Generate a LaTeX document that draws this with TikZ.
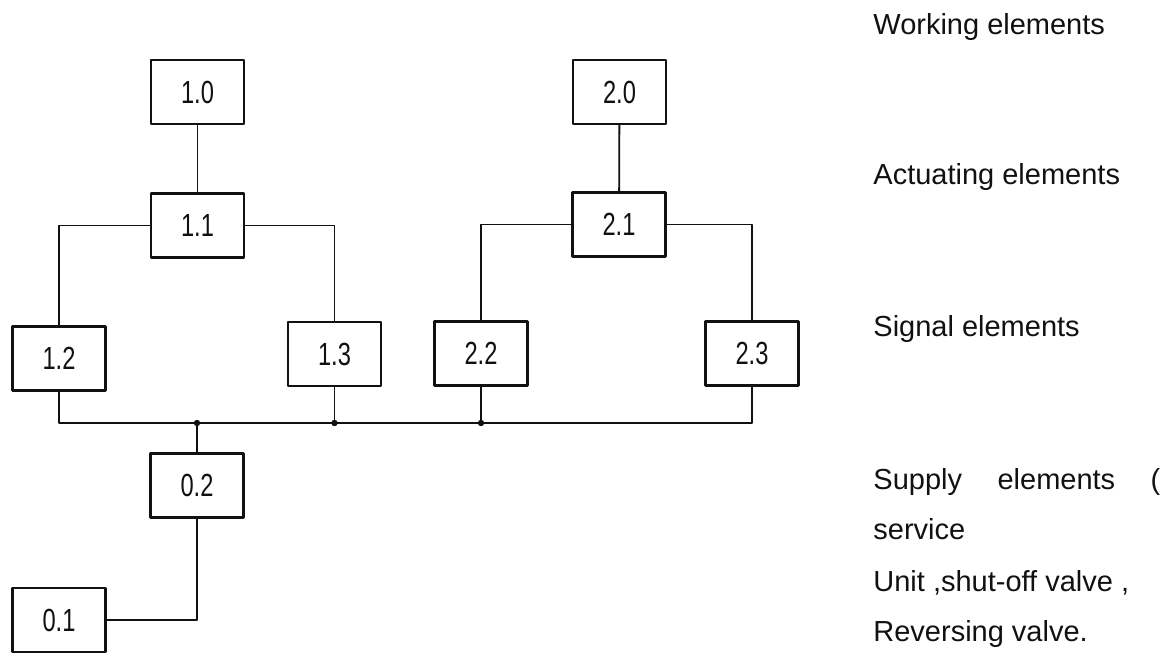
\documentclass[tikz,border=0pt]{standalone}
\usepackage{fontspec}
\setmainfont{Liberation Sans}
\newfontfamily\boxfont[FakeStretch=0.74]{Liberation Sans}
\usepackage{tikz}
\usetikzlibrary{positioning}
\definecolor{psInk}{HTML}{111111}
\tikzset{
  ps diagram/.style={x=0.5pt, y=-0.5pt, text=psInk,
    line cap=round, line join=round},
  ps box/.style={draw=psInk, fill=white, line width=1.3pt,
    minimum width=46.5pt, minimum height=32pt, inner sep=0pt,
    font=\boxfont\fontsize{16}{16}\selectfont},
  ps line/.style={draw=psInk, line width=0.9pt},
  ps dot/.style={fill=psInk},
  ps label/.style={anchor=base west, inner sep=0pt,
    font=\fontsize{14.5}{17}\selectfont}
}

\begin{document}
\begin{tikzpicture}[ps diagram]
\useasboundingbox (0,0) rectangle (1171,656);
% element boxes
\foreach \name/\x/\y/\txt in {b10/197.5/92/1.0, b11/197.5/225.5/1.1,
    b20/619.5/92/2.0, b21/619/224.5/2.1,
    b12/59/358.5/1.2, b13/334.5/354/1.3, b22/481/353.5/2.2, b23/752/353.5/2.3,
    b02/197/485.5/0.2, b01/59/620/0.1}
  \node[ps box] (\name) at (\x,\y) {\txt};
% control chains
\draw[ps line] (b10) -- (b11);
\draw[ps line] (b20) -- (b21);
\draw[ps line] (b11.west) -| (b12.north);
\draw[ps line] (b11.east) -| (b13.north);
\draw[ps line] (b21.west) -| (b22.north);
\draw[ps line] (b21.east) -| (b23.north);
% supply line
\coordinate (bus) at (0,423);
\draw[ps line] (b12.south) |- (bus -| b23.south) -- (b23.south);
\foreach \n in {b13,b22}
  \draw[ps line] (\n.south) -- (\n.south |- bus);
\draw[ps line] (b02.north) -- (b02.north |- bus);
\foreach \n in {b13,b22,b02}
  \fill[ps dot] (\n.center |- bus) circle (1.6pt);
\draw[ps line] (b02.south) |- (b01.east);
% level names
\node[ps label] (work) at (873,35) {Working elements};
\node[ps label] (act) at (873,185) {Actuating elements};
\node[ps label] (sig) at (873,337) {Signal elements};
\node[ps label] (sup) at (873,490) {\hbox to 143.5pt{Supply\hfill elements\hfill (}};
\node[ps label] (serv) at (873,540) {service};
\node[ps label] (unit) at (873,591) {Unit ,shut-off valve ,};
\node[ps label] (rev) at (873,641) {Reversing valve.};
\end{tikzpicture}
\end{document}
